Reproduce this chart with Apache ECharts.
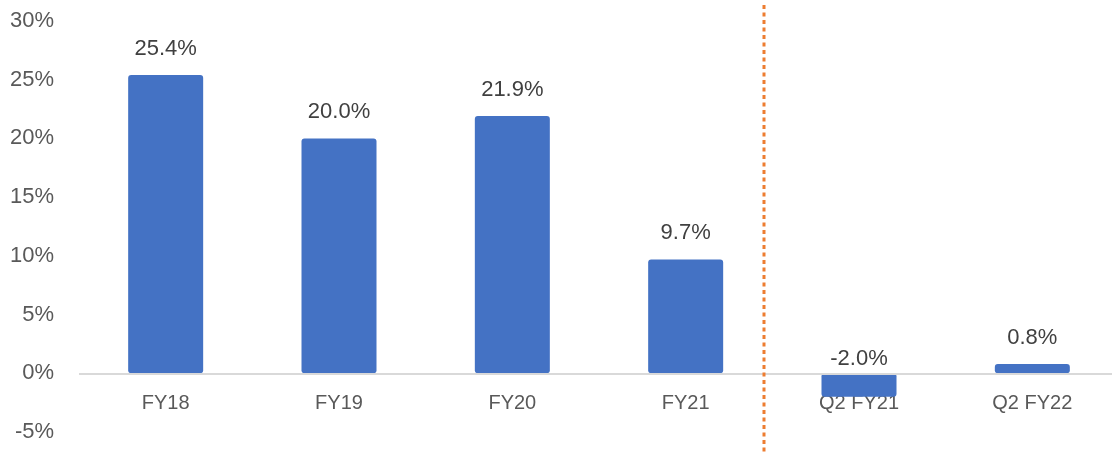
<!DOCTYPE html>
<html>
<head>
<meta charset="utf-8">
<script src="https://cdn.jsdelivr.net/npm/echarts@6/dist/echarts.min.js"></script>
<style>
html,body{margin:0;padding:0;background:#fff;}
#chart{width:1112px;height:457px;}
</style>
</head>
<body>
<div id="chart"></div>
<script>
const categories = ['FY18', 'FY19', 'FY20', 'FY21', 'Q2 FY21', 'Q2 FY22'];
const growth = [25.4, 20.0, 21.9, 9.7, -2.0, 0.8];
const yMin = -5, yMax = 30, yStep = 5;
const dividerAfter = 'FY21';
const dividerBefore = 'Q2 FY21';

const chart = echarts.init(document.getElementById('chart'), null, {renderer: 'canvas'});
const font = '"Liberation Sans", Arial, sans-serif';

const seriesData = growth.map(v => v < 0
  ? {value: v, label: {distance: 3}}
  : {value: v});

chart.setOption({
  animation: false,
  backgroundColor: '#ffffff',
  grid: {left: 79, right: -7, top: 21, bottom: 25, containLabel: false, outerBoundsMode: 'none'},
  xAxis: {
    type: 'category',
    data: categories,
    axisLine: {show: false},
    axisTick: {show: false},
    axisLabel: {color: '#595959', fontSize: 20, fontFamily: font, margin: 20}
  },
  yAxis: {
    type: 'value',
    min: yMin, max: yMax, interval: yStep,
    splitLine: {show: false},
    axisLine: {show: false},
    axisTick: {show: false},
    axisLabel: {color: '#595959', fontSize: 22, fontFamily: font, margin: 25,
      formatter: v => v + '%'}
  },
  series: [{
    type: 'bar',
    data: seriesData,
    barWidth: 75,
    itemStyle: {color: '#4472C4', borderRadius: 3},
    label: {
      show: true, position: 'top', distance: 15,
      color: '#404040', fontSize: 22, fontFamily: font,
      formatter: p => p.value.toFixed(1) + '%'
    },
    markLine: {
      silent: true, symbol: 'none', label: {show: false},
      lineStyle: {color: '#d9d9d9', width: 2, type: 'solid'},
      data: [{yAxis: 0}]
    }
  }]
});

// Move the category axis up to the zero line
const yZero = chart.convertToPixel({yAxisIndex: 0}, 0);
const yBottom = chart.convertToPixel({yAxisIndex: 0}, yMin);
const xa = chart.convertToPixel({xAxisIndex: 0}, dividerAfter);
const xb = chart.convertToPixel({xAxisIndex: 0}, dividerBefore);
const xDiv = Math.round(xa + (xb - xa) * 0.45);
const H = chart.getHeight();
chart.setOption({
  xAxis: {offset: -(yBottom - yZero)},
  graphic: [{
    type: 'line', z: 10,
    shape: {x1: xDiv, y1: 5, x2: xDiv, y2: H - 4},
    style: {stroke: '#ED7D31', lineWidth: 3, lineDash: [4, 3.5]}
  }]
});
</script>
</body>
</html>
